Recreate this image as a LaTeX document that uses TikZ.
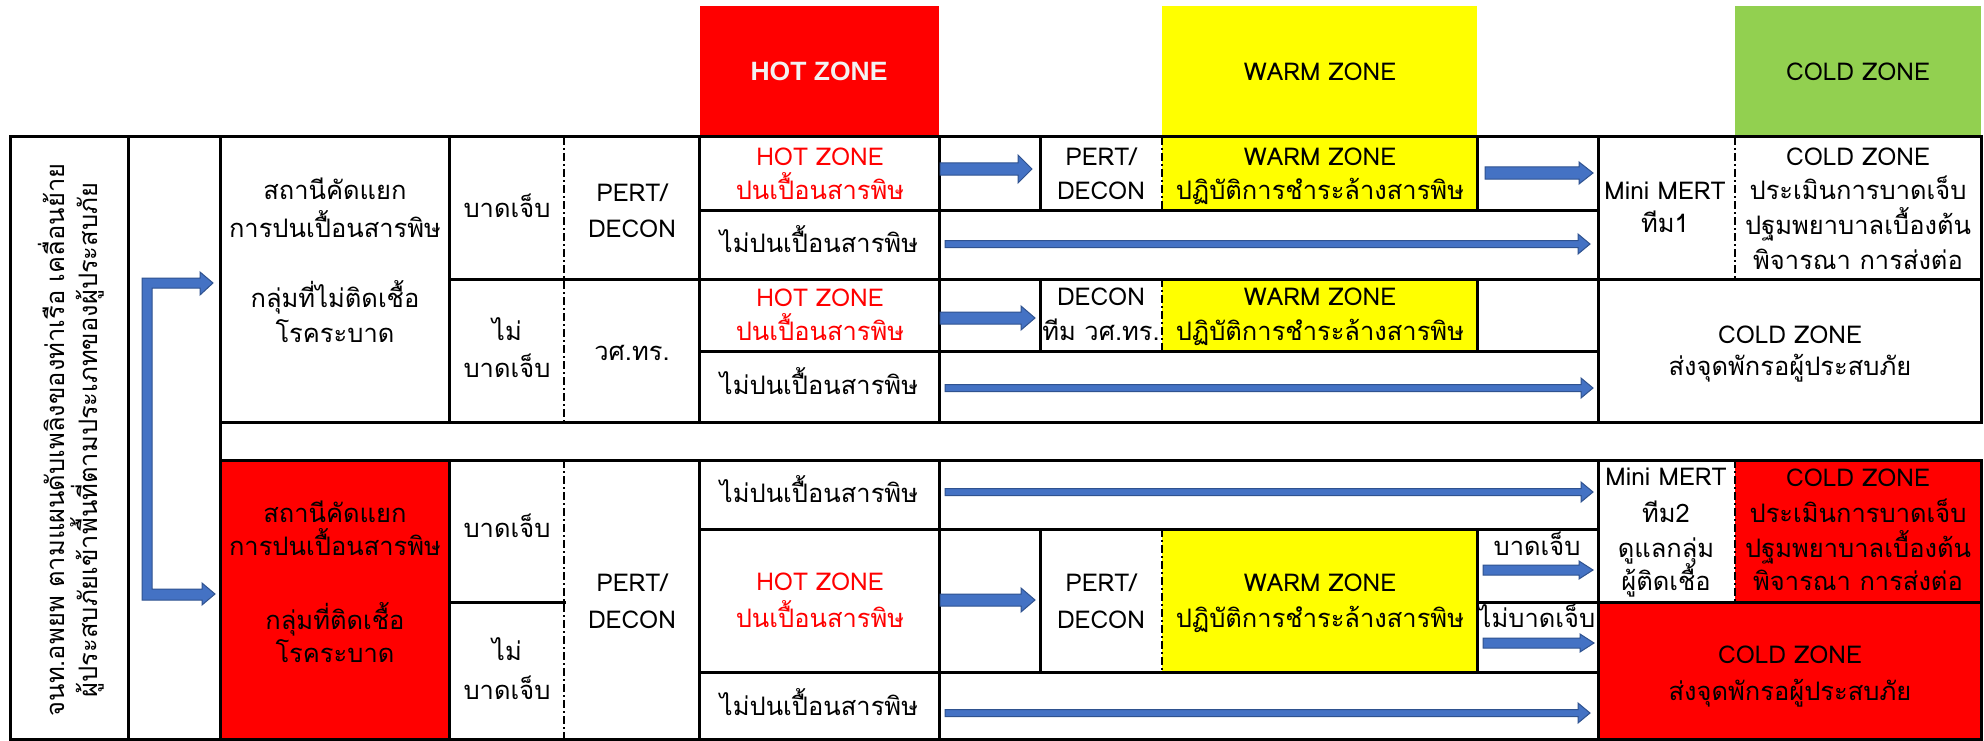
\documentclass[tikz,border=0pt]{standalone}
\usepackage{fontspec}
\setmainfont{Loma}[Script=Thai]
\newfontfamily\hdrfont{Liberation Sans}
\usetikzlibrary{calc}
\definecolor{hotred}{HTML}{FF0000}
\definecolor{warmy}{HTML}{FFFF00}
\definecolor{coldg}{HTML}{92D050}
\definecolor{arrblue}{HTML}{4472C4}
\definecolor{arrline}{HTML}{2F528F}
\definecolor{hdrtxt}{HTML}{F2F2F2}
\tikzset{
 gridline/.style={line width=3pt, black, line cap=rect},
 ddline/.style={line width=2pt, black, dash pattern=on 8pt off 3pt on 2pt off 3pt},
 cellt/.style={font=\fontsize{25.5}{30}\selectfont, inner sep=0pt, anchor=base},
 latt/.style={font=\fontsize{24.5}{30}\selectfont, inner sep=0pt, anchor=base},
 redt/.style={text=hotred},
 hdrt/.style={font=\hdrfont\bfseries\fontsize{26.5}{30}\selectfont, inner sep=0pt, anchor=base, text=hdrtxt},
 barrow/.style={fill=arrblue, draw=arrline, line width=1pt},
}
\newcommand\tline[4]{\node[cellt] (#1) at (#2,#3) {#4};}
\newcommand\lline[4]{\node[latt] (#1) at (#2,#3) {#4};}
\newcommand\blockarr[5]{\filldraw[barrow] ($(#1)+(0,-#3)$) -- ($(#2)+(-#5,-#3)$) -- ($(#2)+(-#5,-#4)$) -- (#2) -- ($(#2)+(-#5,#4)$) -- ($(#2)+(-#5,#3)$) -- ($(#1)+(0,#3)$) -- cycle;}
\begin{document}
\begin{tikzpicture}[x=1pt,y=-1pt]
\useasboundingbox (0,0) rectangle (1984,741);
\fill[white] (0,0) rectangle (1984,741);
% header zones
\fill[hotred] (700,6) rectangle (939,137);
\fill[warmy] (1162,6) rectangle (1477,137);
\fill[coldg] (1735,6) rectangle (1981,137);
\node[hdrt] (hhot) at (819,81) {HOT ZONE};
\node[latt] (hwarm) at (1320,81) {WARM ZONE};
\node[latt] (hcold) at (1858,81) {COLD ZONE};
% fills in table
\fill[warmy] (1162,137) rectangle (1477,210);
\fill[warmy] (1162,279) rectangle (1477,351);
\fill[warmy] (1162,529) rectangle (1477,672);
\fill[hotred] (220,460) rectangle (449,739);
\fill[hotred] (1735,460) rectangle (1981,602);
\fill[hotred] (1598,602) rectangle (1981,739);
% grid lines
\draw[gridline] (10,137) -- (1981,137);
\draw[gridline] (10,739) -- (1981,739);
\draw[gridline] (10,137) -- (10,739);
\draw[gridline] (128,137) -- (128,739);
\draw[gridline] (220,137) -- (220,739);
\draw[gridline] (220,422) -- (1981,422);
\draw[gridline] (220,460) -- (1981,460);
\draw[gridline] (1981,137) -- (1981,422);
\draw[gridline] (1981,460) -- (1981,739);
\foreach \xx in {449,699,939,1598} {
  \draw[gridline] (\xx,137) -- (\xx,422);
  \draw[gridline] (\xx,460) -- (\xx,739);
}
\draw[gridline] (449,279) -- (1981,279);
\draw[gridline] (699,210) -- (1598,210);
\draw[gridline] (699,351) -- (1598,351);
\draw[gridline] (449,602) -- (564,602);
\draw[gridline] (699,529) -- (1598,529);
\draw[gridline] (699,672) -- (1598,672);
\draw[gridline] (1477,602) -- (1981,602);
\foreach \xx in {1040,1477} {
  \draw[gridline] (\xx,137) -- (\xx,210);
  \draw[gridline] (\xx,279) -- (\xx,351);
  \draw[gridline] (\xx,529) -- (\xx,672);
}
\draw[ddline] (1162,137) -- (1162,210);
\draw[ddline] (1162,279) -- (1162,351);
\draw[ddline] (1162,529) -- (1162,672);
\draw[ddline] (564,137) -- (564,422);
\draw[ddline] (564,460) -- (564,739);
\draw[ddline] (1735,137) -- (1735,279);
\draw[ddline] (1735,460) -- (1735,602);
% vertical text
\node[font=\fontsize{25.5}{33}\selectfont, align=center, rotate=90, inner sep=0pt] (vt) at (71,440)
 {จนท.อพยพ ตามแผนดับเพลิงของท่าเรือ เคลื่อนย้าย\\ผู้ประสบภัยเข้าพื้นที่ตามประเภทของผู้ประสบภัย};
% bracket arrow
\coordinate (brtop) at (213,283);
\coordinate (brbot) at (215,594);
\filldraw[barrow] (142,278) -- (200,278) -- (200,272) -- (brtop) -- (200,295) -- (200,288) -- (152,288) -- (152,589) -- (202,589) -- (202,583) -- (brbot) -- (202,605) -- (202,600) -- (142,600) -- cycle;
% upper section texts
\tline{u1}{335}{200}{สถานีคัดแยก}
\tline{u2}{335}{237}{การปนเปื้อนสารพิษ}
\tline{u3}{335}{307}{กลุ่มที่ไม่ติดเชื้อ}
\tline{u4}{335}{342}{โรคระบาด}
\tline{u5}{507}{217}{บาดเจ็บ}
\lline{u6}{632}{201}{PERT/}
\lline{u7}{632}{237}{DECON}
\node[latt,redt] (u8) at (820,165) {HOT ZONE};
\node[cellt,redt] (u9) at (820,199) {ปนเปื้อนสารพิษ};
\tline{u10}{819}{252}{ไม่ปนเปื้อนสารพิษ}
\tline{u11}{507}{340}{ไม่}
\tline{u12}{507}{377}{บาดเจ็บ}
\tline{u13}{632}{360}{วศ.ทร.}
\node[latt,redt] (u14) at (820,306) {HOT ZONE};
\node[cellt,redt] (u15) at (820,340) {ปนเปื้อนสารพิษ};
\tline{u16}{819}{394}{ไม่ปนเปื้อนสารพิษ}
\lline{u17}{1101}{165}{PERT/}
\lline{u18}{1101}{200}{DECON}
\lline{u19}{1320}{165}{WARM ZONE}
\tline{u20}{1320}{200}{ปฏิบัติการชำระล้างสารพิษ}
\lline{u21}{1101}{305}{DECON}
\tline{u22}{1101}{340}{ทีม วศ.ทร.}
\lline{u23}{1320}{305}{WARM ZONE}
\tline{u24}{1320}{340}{ปฏิบัติการชำระล้างสารพิษ}
\lline{u25}{1665}{200}{Mini MERT}
\tline{u26}{1665}{232}{ทีม1}
\lline{u27}{1858}{166}{COLD ZONE}
\tline{u28}{1858}{200}{ประเมินการบาดเจ็บ}
\tline{u29}{1858}{234}{ปฐมพยาบาลเบื้องต้น}
\tline{u30}{1858}{269}{พิจารณา การส่งต่อ}
\lline{u31}{1790}{343}{COLD ZONE}
\tline{u32}{1790}{375}{ส่งจุดพักรอผู้ประสบภัย}
% lower section texts
\tline{l1}{335}{522}{สถานีคัดแยก}
\tline{l2}{335}{555}{การปนเปื้อนสารพิษ}
\tline{l3}{335}{629}{กลุ่มที่ติดเชื้อ}
\tline{l4}{335}{662}{โรคระบาด}
\tline{l5}{507}{537}{บาดเจ็บ}
\tline{l6}{507}{660}{ไม่}
\tline{l7}{507}{699}{บาดเจ็บ}
\lline{l8}{632}{591}{PERT/}
\lline{l9}{632}{628}{DECON}
\tline{l10}{819}{502}{ไม่ปนเปื้อนสารพิษ}
\node[latt,redt] (l11) at (820,590) {HOT ZONE};
\node[cellt,redt] (l12) at (820,627) {ปนเปื้อนสารพิษ};
\tline{l13}{819}{715}{ไม่ปนเปื้อนสารพิษ}
\lline{l14}{1101}{591}{PERT/}
\lline{l15}{1101}{628}{DECON}
\lline{l16}{1320}{591}{WARM ZONE}
\tline{l17}{1320}{627}{ปฏิบัติการชำระล้างสารพิษ}
\tline{l18}{1537}{555}{บาดเจ็บ}
\tline{l19}{1537}{627}{ไม่บาดเจ็บ}
\lline{l20}{1666}{485}{Mini MERT}
\tline{l21}{1666}{522}{ทีม2}
\tline{l22}{1666}{557}{ดูแลกลุ่ม}
\tline{l23}{1666}{590}{ผู้ติดเชื้อ}
\lline{l24}{1858}{486}{COLD ZONE}
\tline{l25}{1858}{522}{ประเมินการบาดเจ็บ}
\tline{l26}{1858}{557}{ปฐมพยาบาลเบื้องต้น}
\tline{l27}{1858}{590}{พิจารณา การส่งต่อ}
\lline{l28}{1790}{663}{COLD ZONE}
\tline{l29}{1790}{700}{ส่งจุดพักรอผู้ประสบภัย}
% arrows
\coordinate (a1s) at (940,169); \coordinate (a1e) at (1032,169);
\coordinate (a2s) at (1485,173); \coordinate (a2e) at (1593,173);
\coordinate (a3s) at (945,244); \coordinate (a3e) at (1590,244);
\coordinate (a4s) at (940,318); \coordinate (a4e) at (1035,318);
\coordinate (a5s) at (945,388); \coordinate (a5e) at (1593,388);
\coordinate (b1s) at (945,492); \coordinate (b1e) at (1593,492);
\coordinate (b2s) at (940,600); \coordinate (b2e) at (1035,600);
\coordinate (b3s) at (1483,570); \coordinate (b3e) at (1593,570);
\coordinate (b4s) at (1483,643); \coordinate (b4e) at (1594,643);
\coordinate (b5s) at (945,713); \coordinate (b5e) at (1590,713);
\blockarr{a1s}{a1e}{6}{14}{14}
\blockarr{a2s}{a2e}{6}{11}{14}
\blockarr{a3s}{a3e}{3.5}{10}{12}
\blockarr{a4s}{a4e}{6}{12}{14}
\blockarr{a5s}{a5e}{3.5}{10}{12}
\blockarr{b1s}{b1e}{3.5}{10}{12}
\blockarr{b2s}{b2e}{6}{12}{14}
\blockarr{b3s}{b3e}{5}{9}{14}
\blockarr{b4s}{b4e}{5}{9}{14}
\blockarr{b5s}{b5e}{3.5}{10}{12}
\end{tikzpicture}
\end{document}
